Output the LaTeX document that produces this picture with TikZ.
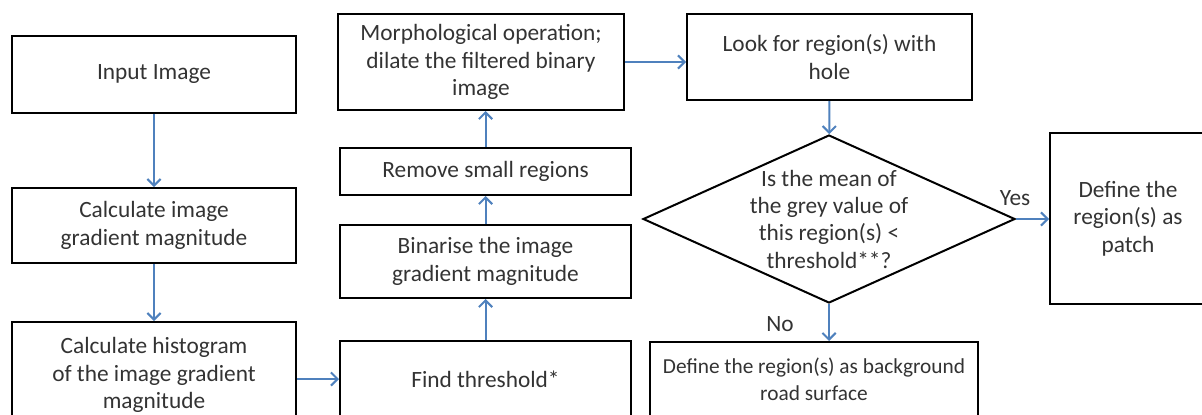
\documentclass[tikz,border=0pt]{standalone}
\usepackage{fontspec}
\setmainfont{Carlito}
\usetikzlibrary{arrows.meta,shapes.geometric}
\definecolor{txt}{HTML}{333333}
\definecolor{arrblue}{HTML}{4F81BD}
\tikzset{
  box/.style={draw=black, line width=1.5pt, rectangle, inner sep=0pt, text=txt, align=center,
    font=\fontsize{17.5}{20.5}\selectfont},
  lbl/.style={text=txt, align=center, inner sep=0pt, font=\fontsize{17.5}{20.5}\selectfont},
  arr/.style={draw=arrblue, line width=1.5pt, -{Straight Barb[length=5pt,width=10pt,line width=1.5pt]}}
}
\begin{document}
\begin{tikzpicture}[x=0.75pt,y=-0.75pt]
\useasboundingbox (0,0) rectangle (1202,414);
\clip (0,0) rectangle (1202,414);
% left column
\node[box, minimum width=213pt, minimum height=57.75pt] (in) at (154,74.5) {Input Image};
\node[box, minimum width=213pt, minimum height=56.25pt] (grad) at (154,225.5) {Calculate image\\gradient magnitude};
\node[box, minimum width=213pt, minimum height=79.5pt] (hist) at (154,375) {Calculate histogram\\of the image gradient\\magnitude};
% middle column
\node[box, minimum width=218.25pt, minimum height=57pt] (thr) at (485.5,379) {Find threshold*};
\node[box, minimum width=218.25pt, minimum height=54.75pt] (bin) at (485.5,261.5) {Binarise the image\\gradient magnitude};
\node[box, minimum width=218.25pt, minimum height=35.25pt] (rem) at (485.5,171.5) {Remove small regions};
\node[box, minimum width=214.5pt, minimum height=72pt] (morph) at (481,62) {Morphological operation;\\dilate the filtered binary\\image};
% right part
\node[box, minimum width=213.75pt, minimum height=64.5pt] (look) at (829.5,57) {Look for region(s) with\\hole};
\node[draw=black, line width=1.5pt, diamond, minimum width=279pt, minimum height=126pt, inner sep=0pt] (dec) at (829,219) {};
\node[lbl] (dectext) at (829,219) {Is the mean of\\the grey value of\\this region(s) <\\threshold**?};
\node[box, minimum width=117pt, minimum height=128.25pt] (patch) at (1128,218.5) {Define the\\region(s) as\\patch};
\node[box, minimum width=246pt, minimum height=55.5pt, font=\fontsize{16}{20.5}\selectfont] (bg) at (814,379) {Define the region(s) as background\\road surface};
\node[lbl] (yes) at (1015,198) {Yes};
\node[lbl] (no) at (780,324) {No};
% connectors
\draw[arr] (in) -- (grad);
\draw[arr] (grad) -- (hist);
\draw[arr] (thr.west -| hist.east) -- (thr.west);
\draw[arr] (thr) -- (bin);
\draw[arr] (bin) -- (rem);
\draw[arr] (rem) -- (rem |- morph.south);
\draw[arr] (morph.east) -- (morph.east -| look.west);
\draw[arr] (look) -- (dec);
\draw[arr] (dec.east) -- (dec.east -| patch.west);
\draw[arr] (dec.south) -- (dec.south |- bg.north);
\end{tikzpicture}
\end{document}
